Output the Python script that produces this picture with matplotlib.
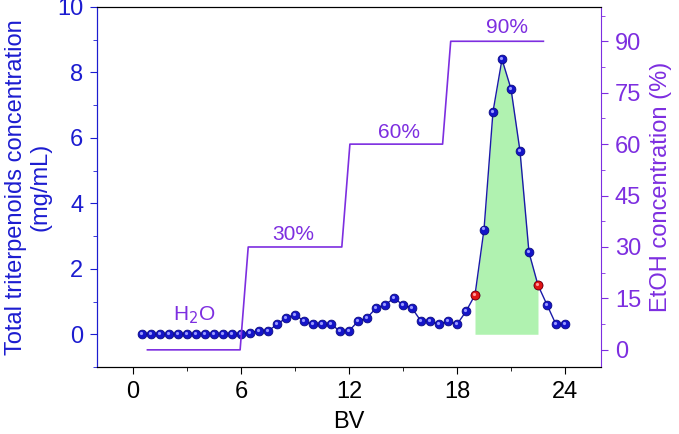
import matplotlib
matplotlib.use('Agg')
import matplotlib.pyplot as plt
import matplotlib.transforms as mtrans
from matplotlib.ticker import MultipleLocator

plt.rcParams['font.family'] = ['Liberation Sans', 'DejaVu Sans']

# elution data
bv = [0.5, 1.0, 1.5, 2.0, 2.5, 3.0, 3.5, 4.0, 4.5, 5.0, 5.5, 6.0,
      6.5, 7.0, 7.5, 8.0, 8.5, 9.0, 9.5, 10.0, 10.5, 11.0, 11.5, 12.0,
      12.5, 13.0, 13.5, 14.0, 14.5, 15.0, 15.5, 16.0, 16.5, 17.0, 17.5, 18.0,
      18.5, 19.0, 19.5, 20.0, 20.5, 21.0, 21.5, 22.0, 22.5, 23.0, 23.5, 24.0]
conc = [0, 0, 0, 0, 0, 0, 0, 0, 0, 0, 0, 0,
        0.05, 0.1, 0.1, 0.3, 0.5, 0.6, 0.4, 0.3, 0.3, 0.3, 0.1, 0.1,
        0.4, 0.5, 0.8, 0.9, 1.1, 0.9, 0.8, 0.4, 0.4, 0.3, 0.4, 0.3,
        0.7, 1.2, 3.2, 6.8, 8.4, 7.5, 5.6, 2.5, 1.5, 0.9, 0.3, 0.3]

# collected fraction (red points)
red_bv = [19.0, 22.5]
red_conc = [1.2, 1.5]

# ethanol gradient
etoh_bv = [0.8, 5.95, 6.4, 11.6, 12.05, 17.2, 17.65, 22.8]
etoh_pct = [0, 0, 30, 30, 60, 60, 90, 90]
step_labels = ['H$_2$O', '30%', '60%', '90%']
step_label_x = [3.4, 8.9, 14.8, 20.8]
step_label_y = [10, 33.5, 63.5, 94]

blue = '#1c1cd0'
purple = '#7d2ee0'

fig = plt.figure(figsize=(6.79, 4.34), dpi=100)
ax = fig.add_axes([0.1429, 0.1544, 0.7422, 0.8295])
ax2 = ax.twinx()

# shaded peak
fx = [b for b in bv if 19.0 <= b <= 22.5]
fy = [c for b, c in zip(bv, conc) if 19.0 <= b <= 22.5]
ax.fill_between(fx, 0, fy, color='#b0f2b0', lw=0, zorder=1)

ax.plot(bv, conc, '-', color='#1a1aa8', lw=1, zorder=3)
hl = mtrans.offset_copy(ax.transData, fig=fig, x=-0.8, y=0.8, units='points')
ax.plot(bv, conc, 'o', ms=6.3, mfc='#1414c8', mec='#0a0a80', mew=0.6, zorder=4)
ax.plot(bv, conc, 'o', ms=2.3, mfc='#9a9aff', mec='none', transform=hl, zorder=5)
ax.plot(red_bv, red_conc, 'o', ms=6.3, mfc='#e01414', mec='#900000', mew=0.6, zorder=6)
ax.plot(red_bv, red_conc, 'o', ms=2.3, mfc='#ff9a9a', mec='none', transform=hl, zorder=7)

ax2.plot(etoh_bv, etoh_pct, '-', color=purple, lw=1.2)
for s, x, y in zip(step_labels, step_label_x, step_label_y):
    ax2.text(x, y, s, color=purple, fontsize=15, ha='center', va='center')

ax.set_xlim(-2, 26)
ax.set_ylim(-1, 10)
ax2.set_ylim(-5, 100)

ax.set_xticks([0, 6, 12, 18, 24])
ax.xaxis.set_minor_locator(MultipleLocator(3))
ax.set_yticks([0, 2, 4, 6, 8, 10])
ax.yaxis.set_minor_locator(MultipleLocator(1))
ax2.set_yticks([0, 15, 30, 45, 60, 75, 90])
ax2.yaxis.set_minor_locator(MultipleLocator(7.5))

ax.tick_params(axis='x', which='major', length=5, labelsize=17, colors='black', pad=5)
ax.tick_params(axis='x', which='minor', length=3)
ax.tick_params(axis='y', which='major', length=5, labelsize=17, colors=blue, pad=5)
ax.tick_params(axis='y', which='minor', length=3, colors=blue)
ax2.tick_params(axis='y', which='major', length=5, labelsize=17, colors=purple, pad=5)
ax2.tick_params(axis='y', which='minor', length=3, colors=purple)

ax.spines['left'].set_color(blue)
ax2.spines['left'].set_color(blue)
ax2.spines['right'].set_color(purple)
ax.spines['right'].set_visible(False)

ax.set_xlabel('BV', fontsize=17, labelpad=6)
ax.set_ylabel('Total triterpenoids concentration\n(mg/mL)', fontsize=17,
              color=blue, linespacing=1.15, labelpad=4)
ax2.set_ylabel('EtOH concentration (%)', fontsize=17, color=purple, labelpad=6)

fig.savefig('out.png', dpi=100)
